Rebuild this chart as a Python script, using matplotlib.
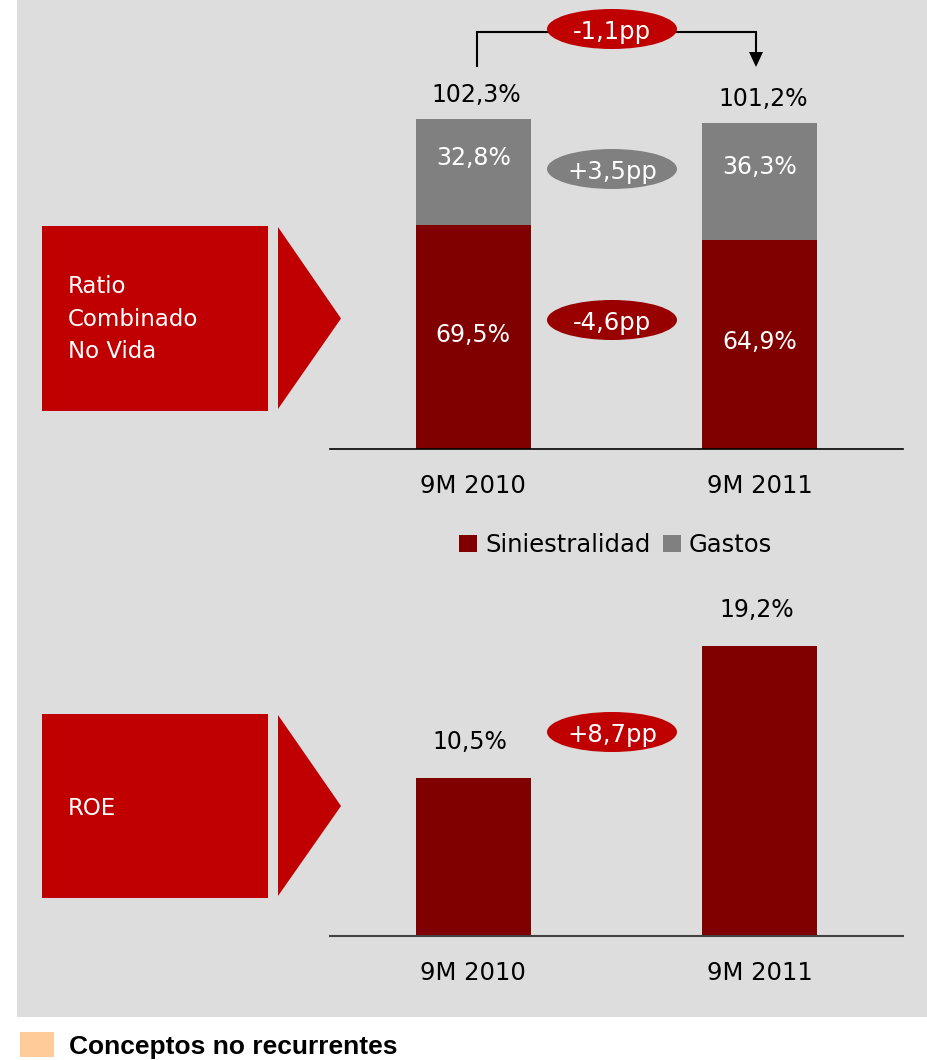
import matplotlib
matplotlib.use("Agg")
import matplotlib.pyplot as plt
from matplotlib.patches import Rectangle, Ellipse, Polygon

# ---------------- data ----------------
periods = ["9M 2010", "9M 2011"]
siniestralidad = [69.5, 64.9]
gastos = [32.8, 36.3]
roe = [10.5, 19.2]
series_names = ["Siniestralidad", "Gastos"]
title_ratio = ["Ratio", "Combinado", "No Vida"]
title_roe = ["ROE"]
footnote = "Conceptos no recurrentes"

# ---------------- style ----------------
DARK_RED = "#800000"
GRAY_BAR = "#808080"
BOX_RED = "#C00000"
DELTA_DARK = "#990000"
BG = "#DDDDDD"
PEACH = "#FFCC99"
FONT = "DejaVu Sans"
plt.rcParams["font.family"] = [FONT]

W, H = 928, 1060
fig = plt.figure(figsize=(W / 100, H / 100), dpi=100, facecolor="white")


def fy(py):
    return 1 - py / H


def fmt(v, sign=False, suffix="%"):
    s = f"{v:+.1f}" if sign else f"{v:.1f}"
    return s.replace(".", ",") + suffix


# overlay in pixel coordinates for decorations
ov = fig.add_axes([0, 0, 1, 1], zorder=0)
ov.set_xlim(0, W)
ov.set_ylim(H, 0)
ov.axis("off")
ov.add_patch(Rectangle((17, 0), W - 17, 1017, color=BG, lw=0))

# left red boxes with arrows
for (top, bot, lines, line_y) in [
    (226, 411, title_ratio, [293, 326, 358]),
    (714, 898, title_roe, [815]),
]:
    ov.add_patch(Rectangle((42, top), 226, bot - top, color=BOX_RED, lw=0))
    ov.add_patch(Polygon([(278, top + 1), (341, (top + bot) / 2), (278, bot - 2)],
                         closed=True, color=BOX_RED, lw=0))
    for txt, yy in zip(lines, line_y):
        ov.text(68, yy, txt, color="white", fontsize=16.5, ha="left", va="baseline")

# ---------------- top chart: combined ratio ----------------
x = list(range(len(periods)))
totals = [s + g for s, g in zip(siniestralidad, gastos)]

ax1 = fig.add_axes([330 / W, fy(449), (903 - 330) / W, 449 / H], zorder=2)
ax1.patch.set_alpha(0)
b1 = ax1.bar(x, siniestralidad, width=0.4, color=DARK_RED, label=series_names[0])
b2 = ax1.bar(x, gastos, width=0.4, bottom=siniestralidad, color=GRAY_BAR, label=series_names[1])
ax1.set_xlim(-0.5, 1.5)
ax1.set_ylim(0, 139.2)
ax1.set_yticks([])
ax1.set_xticks(x, periods)
ax1.tick_params(axis="x", length=0, pad=18, labelsize=17.5)
for sp in ["top", "left", "right"]:
    ax1.spines[sp].set_visible(False)
ax1.spines["bottom"].set_color("black")
ax1.spines["bottom"].set_linewidth(1.2)

for i in x:
    ax1.annotate(fmt(totals[i]), (i, totals[i]), xytext=(3, 17), textcoords="offset pixels",
                 ha="center", va="baseline", fontsize=17, color="black")
    ax1.annotate(fmt(gastos[i]), (i, siniestralidad[i] + gastos[i] / 2), xytext=(0, 7),
                 textcoords="offset pixels", ha="center", va="baseline", fontsize=17, color="white")
    ax1.annotate(fmt(siniestralidad[i]), (i, siniestralidad[i] / 2), xytext=(0, -5),
                 textcoords="offset pixels", ha="center", va="baseline", fontsize=17, color="white")

fig.legend(handles=[b1, b2], labels=series_names, loc="center",
           bbox_to_anchor=(615.5 / W, fy(545)), ncol=2, frameon=False,
           fontsize=17.5, handlelength=0.74, handleheight=0.74, handletextpad=0.33,
           columnspacing=0.5, borderpad=0, borderaxespad=0)

# deltas for top chart
d_total = totals[1] - totals[0]
d_gastos = gastos[1] - gastos[0]
d_sin = siniestralidad[1] - siniestralidad[0]

# connector arrow
ov.plot([477, 477, 756, 756], [66, 32, 32, 53], color="black", lw=1.5, zorder=3,
        solid_joinstyle="miter")
ov.add_patch(Polygon([(749, 52), (763, 52), (756, 67)], closed=True, color="black", lw=0, zorder=3))

for (cy, val, col) in [(29, d_total, BOX_RED), (169, d_gastos, GRAY_BAR), (320, d_sin, DELTA_DARK)]:
    ov.add_patch(Ellipse((612, cy), 130, 40, color=col, lw=0, zorder=4))
    ov.text(612, cy + 10, fmt(val, sign=True, suffix="pp"), color="white", fontsize=17.5,
            ha="center", va="baseline", zorder=5)

# ---------------- bottom chart: ROE ----------------
ax2 = fig.add_axes([330 / W, fy(936), (903 - 330) / W, 356 / H], zorder=2)
ax2.patch.set_alpha(0)
ax2.bar(x, roe, width=0.4, color=DARK_RED)
ax2.set_xlim(-0.5, 1.5)
ax2.set_ylim(0, 23.6)
ax2.set_yticks([])
ax2.set_xticks(x, periods)
ax2.tick_params(axis="x", length=0, pad=18, labelsize=17.5)
for sp in ["top", "left", "right"]:
    ax2.spines[sp].set_visible(False)
ax2.spines["bottom"].set_color("#404040")
ax2.spines["bottom"].set_linewidth(1.5)
for i in x:
    ax2.annotate(fmt(roe[i]), (i, roe[i]), xytext=(-3, 29), textcoords="offset pixels",
                 ha="center", va="baseline", fontsize=17, color="black")

d_roe = roe[1] - roe[0]
ov.add_patch(Ellipse((612, 732), 130, 40, color=BOX_RED, lw=0, zorder=4))
ov.text(612, 732 + 10, fmt(d_roe, sign=True, suffix="pp"), color="white", fontsize=17.5,
        ha="center", va="baseline", zorder=5)

# ---------------- footnote ----------------
ov.add_patch(Rectangle((20, 1032), 34, 25, color=PEACH, lw=0))
ov.text(69, 1054, footnote, fontsize=19, fontweight="bold", family="Liberation Sans",
        ha="left", va="baseline", color="black")

fig.savefig("out.png", dpi=100, facecolor="white")
